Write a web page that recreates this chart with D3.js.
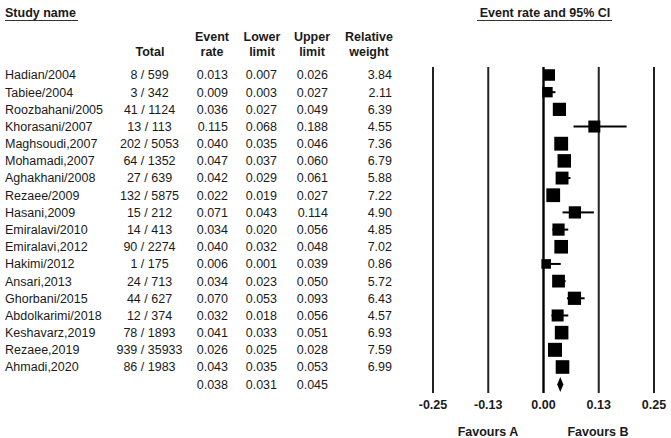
<!DOCTYPE html>
<html><head><meta charset="utf-8">
<script src="https://cdn.jsdelivr.net/npm/d3@7"></script>
<style>body{margin:0;background:#fff}svg{display:block;font-family:"Liberation Sans",Arial,sans-serif}</style>
</head><body><svg id="c" width="671" height="438"></svg>
<script>
const studies = ["Hadian/2004","Tabiee/2004","Roozbahani/2005","Khorasani/2007","Maghsoudi,2007","Mohamadi,2007","Aghakhani/2008","Rezaee/2009","Hasani,2009","Emiralavi/2010","Emiralavi,2012","Hakimi/2012","Ansari,2013","Ghorbani/2015","Abdolkarimi/2018","Keshavarz,2019","Rezaee,2019","Ahmadi,2020"];
const totals = ["8 / 599","3 / 342","41 / 1124","13 / 113","202 / 5053","64 / 1352","27 / 639","132 / 5875","15 / 212","14 / 413","90 / 2274","1 / 175","24 / 713","44 / 627","12 / 374","78 / 1893","939 / 35933","86 / 1983"];
const eventRate = [0.013,0.009,0.036,0.115,0.040,0.047,0.042,0.022,0.071,0.034,0.040,0.006,0.034,0.070,0.032,0.041,0.026,0.043];
const lowerLimit = [0.007,0.003,0.027,0.068,0.035,0.037,0.029,0.019,0.043,0.020,0.032,0.001,0.023,0.053,0.018,0.033,0.025,0.035];
const upperLimit = [0.026,0.027,0.049,0.188,0.046,0.060,0.061,0.027,0.114,0.056,0.048,0.039,0.050,0.093,0.056,0.051,0.028,0.053];
const relWeight = [3.84,2.11,6.39,4.55,7.36,6.79,5.88,7.22,4.90,4.85,7.02,0.86,5.72,6.43,4.57,6.93,7.59,6.99];
const summary = {rate:0.038, lower:0.031, upper:0.045};
const tickValues = [-0.25,-0.125,0,0.125,0.25];
const tickLabels = ["-0.25","-0.13","0.00","0.13","0.25"];

const svg = d3.select("#c");
const fs = 12.5;
const x = d3.scaleLinear().domain([-0.25,0.25]).range([433,654]);
const y = d3.scaleLinear().domain([0,17]).range([75,367]);
const ySum = 384.5;
const size = d3.scaleLinear().domain([0,7.59]).range([9,14]);

function txt(t, xx, yy, anchor, bold){
  return svg.append("text").attr("x",xx).attr("y",yy).attr("text-anchor",anchor||"start")
    .attr("font-size",fs).attr("font-weight",bold?"bold":"normal").attr("fill","#1a1a1a").text(t);
}
txt("Study name",5,17,"start",true);
svg.append("line").attr("x1",5).attr("x2",78).attr("y1",20.5).attr("y2",20.5).attr("stroke","#333").attr("stroke-width",1.2);
txt("Event rate and 95% CI",545,17,"middle",true);
svg.append("line").attr("x1",477).attr("x2",612).attr("y1",20.5).attr("y2",20.5).attr("stroke","#333").attr("stroke-width",1.2);

const cols = [
  {h:["","Total"], cx:150, rx:149.5, anchor:"middle"},
  {h:["Event","rate"], cx:212, rx:228, anchor:"end"},
  {h:["Lower","limit"], cx:262, rx:277, anchor:"end"},
  {h:["Upper","limit"], cx:312, rx:328, anchor:"end"},
  {h:["Relative","weight"], cx:369, rx:392, anchor:"end"}
];
cols.forEach(c=>{
  if(c.h[0]) txt(c.h[0],c.cx,41,"middle",true);
  txt(c.h[1],c.cx,56,"middle",true);
});

const fmt = d3.format(".3f");
studies.forEach((s,i)=>{
  const yy = y(i)+4.4;
  txt(s,5,yy);
  txt(totals[i],cols[0].rx,yy,"middle");
  txt(fmt(eventRate[i]),cols[1].rx,yy,"end");
  txt(fmt(lowerLimit[i]),cols[2].rx,yy,"end");
  txt(fmt(upperLimit[i]),cols[3].rx,yy,"end");
  txt(relWeight[i].toFixed(2),cols[4].rx,yy,"end");
});
txt(fmt(summary.rate),cols[1].rx,ySum+4.4,"end");
txt(fmt(summary.lower),cols[2].rx,ySum+4.4,"end");
txt(fmt(summary.upper),cols[3].rx,ySum+4.4,"end");

svg.append("g").selectAll("line").data(tickValues).join("line")
  .attr("x1",d=>x(d)).attr("x2",d=>x(d)).attr("y1",67).attr("y2",393)
  .attr("stroke",d=>d===0?"#000":"#222").attr("stroke-width",d=>d===0?2.4:2);

svg.append("g").selectAll("text").data(tickValues).join("text")
  .attr("x",d=>x(d)).attr("y",409).attr("text-anchor","middle")
  .attr("font-size",fs).attr("font-weight","bold").attr("fill","#1a1a1a")
  .text((d,i)=>tickLabels[i]);
txt("Favours A",488,436,"middle",true);
txt("Favours B",598,436,"middle",true);

const g = svg.append("g");
g.selectAll("line.ci").data(studies).join("line").attr("class","ci")
  .attr("x1",(d,i)=>x(lowerLimit[i])).attr("x2",(d,i)=>x(upperLimit[i]))
  .attr("y1",(d,i)=>y(i)).attr("y2",(d,i)=>y(i)).attr("stroke","#000").attr("stroke-width",2);
g.selectAll("rect").data(studies).join("rect")
  .attr("x",(d,i)=>x(eventRate[i])-size(relWeight[i])/2)
  .attr("y",(d,i)=>y(i)-size(relWeight[i])/2)
  .attr("width",(d,i)=>size(relWeight[i])).attr("height",(d,i)=>size(relWeight[i]))
  .attr("fill","#000");

const dh = 7.5;
svg.append("path").attr("d",
  `M${x(summary.lower)},${ySum} L${x(summary.rate)},${ySum-dh} L${x(summary.upper)},${ySum} L${x(summary.rate)},${ySum+dh} Z`)
  .attr("fill","#000");
</script></body></html>
